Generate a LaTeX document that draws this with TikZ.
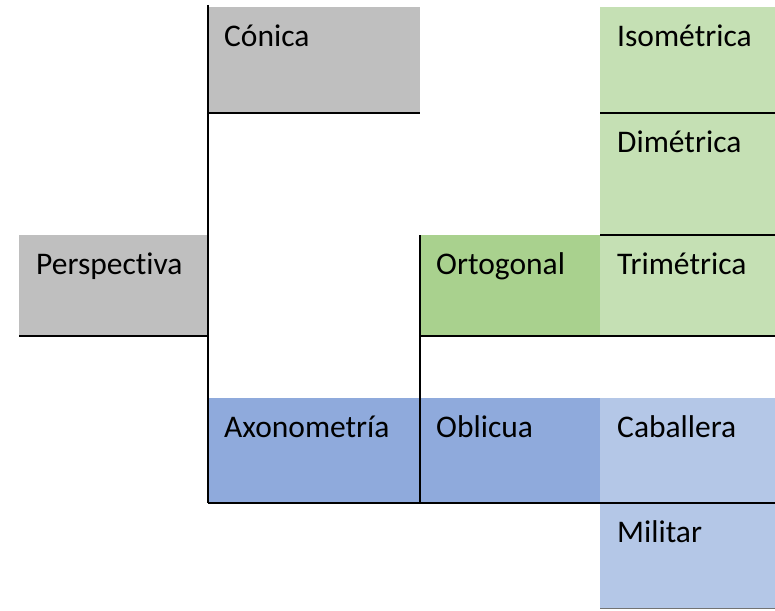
\documentclass[tikz,border=0pt]{standalone}
\usepackage{fontspec}
\setmainfont[Ligatures={NoCommon}]{Carlito}
\usetikzlibrary{calc}
\definecolor{cgray}{HTML}{BFBFBF}
\definecolor{cgreen}{HTML}{A9D18E}
\definecolor{clgreen}{HTML}{C5E0B4}
\definecolor{cblue}{HTML}{8FAADC}
\definecolor{clblue}{HTML}{B4C7E7}
\tikzset{
  box/.style={rectangle, draw=none, inner sep=0pt, anchor=north west},
  lbl/.style={anchor=base west, inner sep=0pt, font=\fontsize{31.5}{38}\selectfont},
  rule/.style={draw=black, line width=2pt},
  thinrule/.style={draw=black!55, line width=1.5pt}
}
\begin{document}
\begin{tikzpicture}[x=1pt,y=-1pt]
\useasboundingbox (0,0) rectangle (775,610);
% boxes
\node[box, fill=cgray, minimum width=189pt, minimum height=101pt] (per) at (19,235) {};
\node[box, fill=cgray, minimum width=212pt, minimum height=106pt] (con) at (208,7) {};
\node[box, fill=cblue, minimum width=212pt, minimum height=105pt] (axo) at (208,398) {};
\node[box, fill=cgreen, minimum width=180pt, minimum height=101pt] (ort) at (420,235) {};
\node[box, fill=cblue, minimum width=180pt, minimum height=105pt] (obl) at (420,398) {};
\node[box, fill=clgreen, minimum width=175pt, minimum height=106pt] (iso) at (600,7) {};
\node[box, fill=clgreen, minimum width=175pt, minimum height=122pt] (dim) at (600,113) {};
\node[box, fill=clgreen, minimum width=175pt, minimum height=101pt] (tri) at (600,235) {};
\node[box, fill=clblue, minimum width=175pt, minimum height=105pt] (cab) at (600,398) {};
\node[box, fill=clblue, minimum width=175pt, minimum height=105pt] (mil) at (600,503) {};
% labels
\node[lbl] (tper) at ($(per.north west)+(17,39)$) {Perspectiva};
\node[lbl] (tcon) at ($(con.north west)+(16,39)$) {Cónica};
\node[lbl] (taxo) at ($(axo.north west)+(16,39)$) {Axonometría};
\node[lbl] (tort) at ($(ort.north west)+(16,39)$) {Ortogonal};
\node[lbl] (tobl) at ($(obl.north west)+(16,39)$) {Oblicua};
\node[lbl] (tiso) at ($(iso.north west)+(17,39)$) {Isométrica};
\node[lbl] (tdim) at ($(dim.north west)+(17,39)$) {Dimétrica};
\node[lbl] (ttri) at ($(tri.north west)+(17,39)$) {Trimétrica};
\node[lbl] (tcab) at ($(cab.north west)+(17,39)$) {Caballera};
\node[lbl] (tmil) at ($(mil.north west)+(17,39)$) {Militar};
% rules
\coordinate (vtop) at (208,5);
\draw[rule] (vtop) -- (axo.south west);
\draw[rule] (ort.north west) -- (obl.south west);
\draw[rule] (con.south west) -- (con.south east);
\draw[rule] (iso.south west) -- (iso.south east);
\draw[rule] (dim.south west) -- (dim.south east);
\draw[rule] (per.south west) -- (per.south east);
\draw[rule] (ort.south west) -- (tri.south east);
\draw[rule] (axo.south west) -- (cab.south east);
\draw[thinrule] (mil.south west) -- (mil.south east);
\end{tikzpicture}
\end{document}
